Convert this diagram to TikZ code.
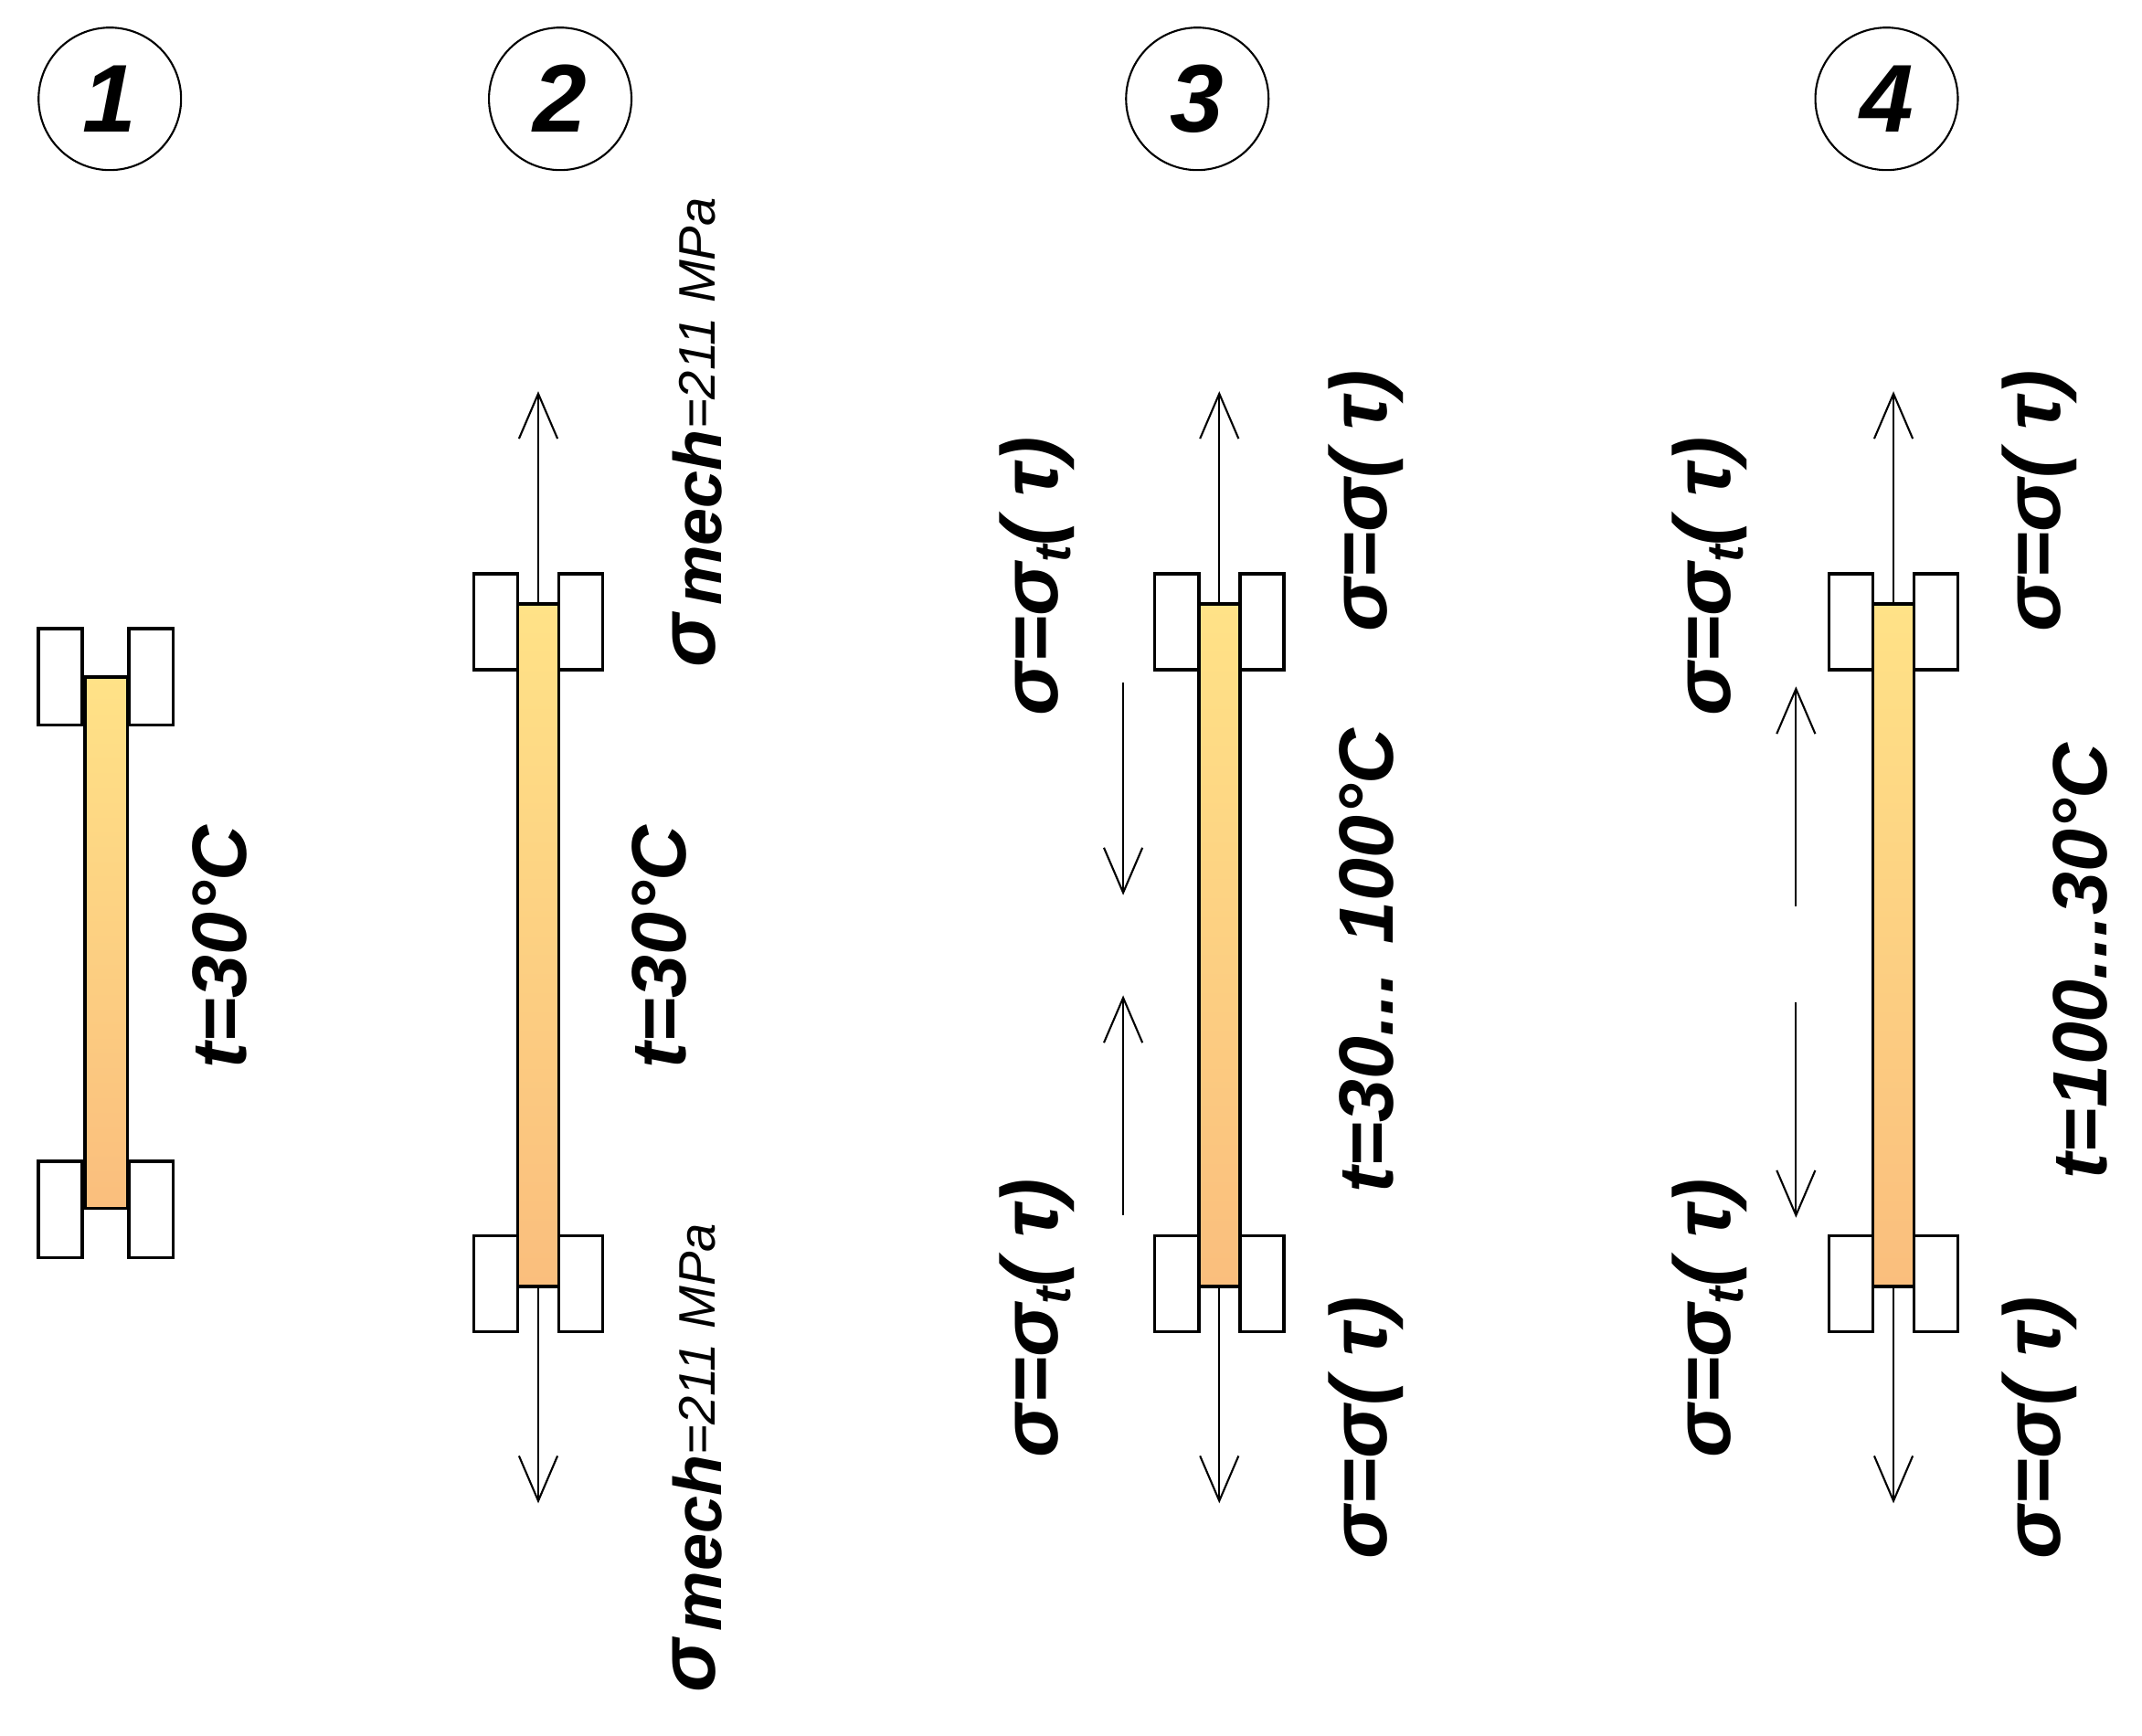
\documentclass[tikz,border=0pt]{standalone}
\usepackage{fontspec}
\setmainfont{Liberation Sans}
\usetikzlibrary{arrows.meta}
\definecolor{bartop}{RGB}{255,226,135}
\definecolor{barbot}{RGB}{250,190,125}
\begin{document}
\begin{tikzpicture}[x=0.015026cm,y=-0.015026cm,
  lbl/.style={rotate=90,font=\fontsize{24}{30}\selectfont\itshape\bfseries},
  sg/.style={rotate=90,font=\fontsize{25}{30}\selectfont\itshape\bfseries},
  mc/.style={rotate=90,font=\fontsize{16}{20}\selectfont\itshape},
  num/.style={circle,draw,line width=0.6pt,minimum size=1.56cm,inner sep=0pt,font=\fontsize{30}{36}\selectfont\itshape\bfseries},
  bar/.style={draw,line width=1pt,top color=bartop,bottom color=barbot},
  clamp/.style={draw,line width=1pt,fill=white},
  arr/.style={line width=0.6pt,-{Straight Barb[length=14pt,width=12pt,line width=0.6pt]}}]
\useasboundingbox (0,0) rectangle (1560,1264);
\node[num] (c1) at (80,72) {1};
\node[num] (c2) at (408,72) {2};
\node[num] (c3) at (872,72) {3};
\node[num] (c4) at (1374,72) {4};
% column 1
\draw[clamp] (28,458) rectangle (60,528); \draw[clamp] (94,458) rectangle (126,528);
\draw[clamp] (28,846) rectangle (60,916); \draw[clamp] (94,846) rectangle (126,916);
\draw[bar] (62,493) rectangle (93,880);
\node[lbl] (t1) at (160,690) {t=30°C};
% columns 2-4
\foreach \cx in {392,888,1379}{
  \draw[clamp] (\cx-47,418) rectangle (\cx-15,488); \draw[clamp] (\cx+15,418) rectangle (\cx+47,488);
  \draw[clamp] (\cx-47,900) rectangle (\cx-15,970); \draw[clamp] (\cx+15,900) rectangle (\cx+47,970);
  \draw[bar] (\cx-15,440) rectangle (\cx+15,937);
  \coordinate (u\cx) at (\cx,440); \coordinate (U\cx) at (\cx,285);
  \coordinate (d\cx) at (\cx,937); \coordinate (D\cx) at (\cx,1095);
  \draw[arr] (u\cx) -- (U\cx);
  \draw[arr] (d\cx) -- (D\cx);
}
\node[lbl] (t2) at (480,690) {t=30°C};
\node[mc] (m1) at (508,315) {{\fontsize{25}{30}\selectfont\bfseries σ}\,\raisebox{-0.25ex}{\fontsize{21}{24}\selectfont\bfseries mech}=211 MPa};
\node[mc] (m2) at (508,1062) {{\fontsize{25}{30}\selectfont\bfseries σ}\,\raisebox{-0.25ex}{\fontsize{21}{24}\selectfont\bfseries mech}=211 MPa};
% column 3
\coordinate (a1) at (818,497); \coordinate (a2) at (818,652);
\coordinate (a3) at (818,885); \coordinate (a4) at (818,725);
\draw[arr] (a1) -- (a2); \draw[arr] (a3) -- (a4);
\node[sg] (s31) at (755,420) {σ=σ\raisebox{-0.3ex}{\fontsize{16}{18}\selectfont t}( τ)};
\node[sg] (s32) at (755,960) {σ=σ\raisebox{-0.3ex}{\fontsize{16}{18}\selectfont t}( τ)};
\node[sg] (s33) at (995,365) {σ=σ( τ)};
\node[sg] (s34) at (995,1040) {σ=σ( τ)};
\node[lbl] (t3) at (995,700) {t=30... 100°C};
% column 4
\coordinate (b1) at (1308,660); \coordinate (b2) at (1308,500);
\coordinate (b3) at (1308,730); \coordinate (b4) at (1308,887);
\draw[arr] (b1) -- (b2); \draw[arr] (b3) -- (b4);
\node[sg] (s41) at (1245,420) {σ=σ\raisebox{-0.3ex}{\fontsize{16}{18}\selectfont t}( τ)};
\node[sg] (s42) at (1245,960) {σ=σ\raisebox{-0.3ex}{\fontsize{16}{18}\selectfont t}( τ)};
\node[sg] (s43) at (1485,365) {σ=σ( τ)};
\node[sg] (s44) at (1485,1040) {σ=σ( τ)};
\node[lbl] (t4) at (1515,700) {t=100...30°C};
\end{tikzpicture}
\end{document}
